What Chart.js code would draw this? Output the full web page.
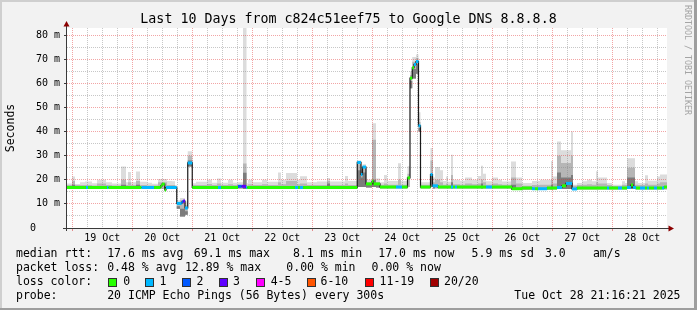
<!DOCTYPE html>
<html><head><meta charset="utf-8">
<script src="https://cdn.jsdelivr.net/npm/chart.js@4/dist/chart.umd.min.js"></script>
<style>
html,body{margin:0;padding:0;background:#f2f2f2;}
#wrap{position:relative;width:697px;height:310px;overflow:hidden;background:#f2f2f2;font-family:"DejaVu Sans Mono",monospace;}
#c{position:absolute;left:0;top:0;}
.t{position:absolute;font-size:11.5px;line-height:14px;white-space:pre;color:#000;}
.box{position:absolute;width:7px;height:7px;border:1px solid #303030;}
.bd{position:absolute;}
#credit{position:absolute;left:683px;top:5px;writing-mode:vertical-rl;font-size:8.3px;line-height:9px;color:#a4a4a4;white-space:pre;}
</style></head><body>
<div id="wrap">
<canvas id="c" width="697" height="310"></canvas>
<div id="legend"></div>
<div id="credit">RRDTOOL / TOBI OETIKER</div>
<div class="bd" style="left:0;top:0;width:697px;height:2px;background:#cfcfcf"></div>
<div class="bd" style="left:0;top:0;width:2px;height:310px;background:#cfcfcf"></div>
<div class="bd" style="left:694px;top:0;width:3px;height:310px;background:#9e9e9e"></div>
<div class="bd" style="left:0;top:308px;width:697px;height:2px;background:#9e9e9e"></div>
</div>
<script>
// ---------- data (time in hours since 18 Oct 00:00, values in ms) ----------
const titleText = 'Last 10 Days from c824c51eef75 to Google DNS 8.8.8.8';
const axisTitle = 'Seconds';
const timeStart = 21.9;
const timeEnd = 261.9;
const yMax = 83;

// median RTT (step changes) and the number of lost pings (of 20) per step
const medHours = [21.9,29.5,30.3,37.9,38.5,51.7,56.7,59.4,59.9,61.0,
  61.5,65.8,67.8,68.4,69.1,70.2,72.0,82.3,83.5,90.3,
  91.8,93.5,94.0,113.1,114.3,115.1,116.3,138.0,139.5,140.1,
  141.5,143.9,144.5,147.1,153.5,155.9,158.1,159.1,160.0,160.7,
  161.5,162.5,163.3,167.3,168.1,170.3,175.5,176.3,177.1,177.9,
  189.5,191.9,199.9,203.9,207.9,209.1,210.3,213.9,217.9,219.9,
  221.5,223.9,225.9,237.9,238.7,242.3,243.9,245.9,247.5,248.3,
  249.5,251.1,253.1,253.9,254.7,256.7,257.9,259.9,260.7];
const medMs = [16.8,16.8,16.8,16.8,16.8,16.8,16.8,17.5,18.2,15.8,
  16.8,10.2,10.8,11.2,8.3,27.0,16.8,16.8,16.8,17.3,
  17.3,16.8,16.8,16.8,16.8,16.8,16.8,27.2,22.2,25.3,
  18.3,19.4,18.3,17.0,17.0,17.0,20.8,62.2,66.5,67.9,
  69.1,42.4,17.0,22.2,17.5,17.0,17.0,17.0,17.0,17.0,
  17.0,17.0,16.3,16.6,16.3,16.3,16.3,16.6,16.8,17.5,
  18.5,16.2,16.6,16.6,16.6,16.6,16.6,16.8,17.8,16.8,
  16.6,16.6,16.6,16.6,16.6,16.6,16.6,16.6,17.0];
const medLoss = [0,1,0,1,0,1,0,0,0,0,
  1,1,2,3,1,1,0,1,0,2,
  3,1,0,1,0,1,0,1,1,1,
  0,0,0,0,1,0,0,0,0,1,
  1,1,0,1,1,0,1,0,1,0,
  1,0,0,0,1,0,1,0,1,0,
  1,1,0,1,0,1,0,1,0,1,
  0,1,0,1,0,1,0,1,0];

// smoke (spread of the 20 pings): bottom, dark band top, mid band top, max
const smokeHours = [21.9,23.9,25.1,27.1,29.1,31.9,33.9,37.5,39.9,43.5,
  45.5,46.3,47.5,49.5,51.1,53.9,55.9,58.3,61.9,63.9,
  65.1,65.8,67.1,69.1,70.2,72.0,73.5,77.9,79.9,81.9,
  83.5,86.3,88.3,90.3,92.3,93.7,94.3,96.3,99.9,101.9,
  106.3,107.5,109.5,113.9,115.1,117.9,121.9,125.9,127.1,133.1,
  134.3,138.0,139.5,140.1,141.5,143.9,145.5,147.1,148.7,149.9,
  154.3,155.5,158.1,159.1,160.0,161.5,162.5,163.3,167.3,168.3,
  169.1,171.1,172.3,173.5,174.3,175.5,176.3,179.1,181.1,183.9,
  186.3,187.5,188.3,189.5,191.9,194.3,195.9,199.5,201.5,203.9,
  207.9,211.1,215.5,216.3,217.9,219.5,223.5,224.3,225.9,227.9,
  229.9,231.9,233.5,234.3,237.9,239.9,243.9,245.1,245.9,249.1,
  250.3,253.1,254.3,257.9,259.1];
const smokeLow = [16.2,16.2,16.2,16.2,16.2,16.2,16.2,16.2,16.2,16.2,
  16.2,16.2,16.2,16.2,16.2,16.2,16.2,16.2,16.2,16.2,
  16.2,8.0,4.8,5.5,25.5,16.2,16.2,16.2,16.2,16.2,
  16.2,16.2,16.2,16.2,16.2,16.2,16.2,16.2,16.2,16.2,
  16.2,16.2,16.2,16.2,16.2,16.2,16.2,16.2,16.2,16.2,
  16.2,17.0,17.0,17.0,16.8,17.0,16.8,16.4,16.4,16.4,
  16.4,16.4,17.0,58.0,62.0,64.0,40.0,16.4,17.0,16.4,
  16.4,16.4,16.4,16.4,16.4,16.4,16.4,16.4,16.4,16.4,
  16.4,16.4,16.4,16.4,16.4,16.4,16.4,15.8,15.8,15.8,
  15.8,15.8,16.0,16.0,16.2,16.2,16.2,15.8,16.0,16.0,
  16.0,16.0,16.0,16.0,16.0,16.0,16.0,16.0,16.2,16.0,
  16.0,16.0,16.0,16.0,16.0];
const smokeDark = [16.2,18.0,16.2,16.2,16.2,16.2,16.2,16.2,16.2,18.0,
  16.2,16.2,16.2,18.0,16.2,16.2,16.2,16.2,16.2,16.2,
  16.2,9.0,8.0,7.0,28.0,16.2,16.2,16.2,16.2,16.2,
  16.2,16.2,16.2,16.2,22.9,16.2,16.2,16.2,16.2,16.2,
  16.2,16.2,16.2,16.2,16.2,16.2,16.2,18.5,16.2,16.2,
  16.2,24.0,21.0,23.0,18.3,20.0,18.0,16.4,16.4,16.4,
  16.4,16.4,17.0,61.0,66.0,68.0,41.5,16.4,22.0,17.5,
  16.4,16.4,16.4,16.4,16.4,19.0,16.4,16.4,16.4,16.4,
  16.4,18.5,16.4,16.4,16.4,16.4,16.4,18.0,15.8,15.8,
  15.8,15.8,18.0,16.0,23.0,21.0,22.0,15.8,16.0,16.0,
  16.0,16.0,16.0,16.0,16.0,16.0,16.0,16.0,21.0,16.0,
  16.0,16.0,16.0,16.0,16.0];
const smokeMid = [17.8,19.5,17.8,17.8,17.8,17.6,18.5,17.8,17.6,20.0,
  17.8,19.0,17.8,19.5,17.8,17.6,17.6,19.0,17.8,17.8,
  17.4,10.8,11.5,9.5,30.0,17.8,17.8,18.3,17.8,18.5,
  17.8,18.2,17.8,17.8,26.8,17.6,18.2,17.8,18.2,17.8,
  19.0,18.2,19.5,18.2,18.5,17.8,17.8,19.5,17.8,18.5,
  17.8,26.5,23.0,25.0,19.0,36.6,19.0,18.0,18.5,18.0,
  20.0,18.0,22.5,63.5,69.0,70.5,44.0,18.0,28.0,19.0,
  20.0,19.0,18.0,18.5,18.0,22.0,18.2,18.0,18.5,18.2,
  18.5,20.0,19.0,18.0,18.5,18.2,18.0,21.0,18.5,17.5,
  17.8,18.0,20.0,18.5,30.0,27.0,30.0,17.5,17.8,18.0,
  18.2,18.0,19.0,18.5,17.8,17.4,18.0,17.8,25.0,18.0,
  17.8,18.5,18.0,18.5,19.0];
const smokeHigh = [18.5,21.4,18.3,19.0,19.3,18.6,20.0,19.0,18.5,25.5,
  19.0,23.2,19.0,23.4,19.2,18.8,18.4,20.3,19.5,19.4,
  17.8,11.5,12.5,11.0,31.8,18.6,19.2,20.0,18.8,20.5,
  18.8,20.0,18.8,19.0,95.0,18.6,20.0,19.0,20.0,19.2,
  23.0,20.0,22.8,20.0,21.5,19.0,19.3,20.8,19.3,21.6,
  19.5,28.0,24.0,26.5,20.0,43.5,20.5,19.0,22.0,19.5,
  26.9,19.5,25.6,65.0,71.0,72.0,48.0,19.0,33.2,21.0,
  25.3,24.0,19.5,21.4,19.2,30.4,20.0,19.6,21.0,20.0,
  21.6,25.8,22.5,19.4,21.0,20.0,19.3,27.6,21.0,18.7,
  19.5,20.0,27.8,21.4,35.9,32.3,40.0,18.0,18.7,19.4,
  20.0,19.4,23.5,21.0,18.7,18.0,19.4,18.7,28.9,19.4,
  18.7,21.9,19.6,21.4,22.2];

// legend
const lossLabels = ['0','1','2','3','4-5','6-10','11-19','20/20'];
const lossColors = ['#26ff00','#00b8ff','#0059ff','#5e00ff','#ff00ff','#ff5500','#ff0000','#a00000'];
const rttStats = ['17.6 ms avg','69.1 ms max','8.1 ms min','17.0 ms now','5.9 ms sd','3.0','am/s'];
const lossStats = ['0.48 % avg','12.89 % max','0.00 % min','0.00 % now'];
const probeText = '20 ICMP Echo Pings (56 Bytes) every 300s';
const dateText = 'Tue Oct 28 21:16:21 2025';

// ---------- helpers ----------
const MONO = "'DejaVu Sans Mono', monospace";
function lossColor(n){
  if (n <= 3) return lossColors[n];
  if (n <= 5) return lossColors[4];
  if (n <= 10) return lossColors[5];
  if (n <= 19) return lossColors[6];
  return lossColors[7];
}
// each value holds from its own time until the next time
function stepData(xs, ys){
  const d = xs.map((x, i) => ({x: x, y: ys[i]}));
  d.push({x: timeEnd, y: ys[ys.length - 1]});
  return d;
}
const lossSegs = [];
medHours.forEach((t, i) => {
  const t2 = i + 1 < medHours.length ? medHours[i + 1] : timeEnd;
  lossSegs.push({x: t, y: medMs[i]}, {x: t2, y: medMs[i]}, {x: t2, y: null});
});

const GRID_MINOR = 'rgba(130,130,130,0.45)';
const GRID_MAJOR = 'rgba(225,40,40,0.42)';

const bgPlugin = {
  id: 'canvasBg',
  beforeDraw(chart){
    const {ctx, chartArea: a} = chart;
    ctx.save(); ctx.fillStyle = '#ffffff';
    ctx.fillRect(a.left, a.top, a.right - a.left, a.bottom - a.top);
    ctx.restore();
  }
};
const gridPlugin = {
  id: 'gridOverSmoke',
  afterDatasetDraw(chart, args){
    if (chart.data.datasets[args.index].label !== 'smokeDark') return;
    const {ctx, chartArea: a} = chart;
    const xs = chart.scales.x, ys = chart.scales.y;
    ctx.save();
    ctx.lineWidth = 1; ctx.setLineDash([1, 1]);
    xs.ticks.forEach(t => {
      const px = Math.floor(xs.getPixelForValue(t.value)) + 0.5;
      ctx.strokeStyle = (t.value % 24 === 0) ? GRID_MAJOR : GRID_MINOR;
      ctx.beginPath(); ctx.moveTo(px, a.top); ctx.lineTo(px, a.bottom); ctx.stroke();
    });
    ys.ticks.forEach(t => {
      if (t.value === 0) return;
      const py = Math.floor(ys.getPixelForValue(t.value)) + 0.5;
      ctx.strokeStyle = (t.value % 10 === 0) ? GRID_MAJOR : GRID_MINOR;
      ctx.beginPath(); ctx.moveTo(a.left, py); ctx.lineTo(a.right, py); ctx.stroke();
    });
    ctx.restore();
  }
};
const axisPlugin = {
  id: 'rrdAxes',
  afterDraw(chart){
    const {ctx, chartArea: a} = chart;
    ctx.save();
    ctx.strokeStyle = '#3a3a3a'; ctx.lineWidth = 1;
    ctx.beginPath();
    ctx.moveTo(a.left - 0.5, a.bottom + 3); ctx.lineTo(a.left - 0.5, a.top - 2);
    ctx.moveTo(a.left - 4, a.bottom + 0.5); ctx.lineTo(a.right + 2, a.bottom + 0.5);
    ctx.stroke();
    ctx.fillStyle = '#8b0000';
    ctx.beginPath();
    ctx.moveTo(a.left - 0.5, a.top - 7); ctx.lineTo(a.left - 3.5, a.top - 1.5); ctx.lineTo(a.left + 2.5, a.top - 1.5);
    ctx.closePath(); ctx.fill();
    ctx.beginPath();
    ctx.moveTo(a.right + 7, a.bottom + 0.5); ctx.lineTo(a.right + 1.5, a.bottom - 2.5); ctx.lineTo(a.right + 1.5, a.bottom + 3.5);
    ctx.closePath(); ctx.fill();
    ctx.restore();
  }
};

const noLine = 'rgba(0,0,0,0)';
new Chart(document.getElementById('c'), {
  type: 'line',
  data: {
    datasets: [
      {label: 'smokeLow', data: stepData(smokeHours, smokeLow), stepped: 'before', borderColor: noLine, borderWidth: 1, fill: false, order: 20},
      {label: 'smokeHigh', data: stepData(smokeHours, smokeHigh), stepped: 'before', borderColor: noLine, borderWidth: 1, backgroundColor: '#dcdcdc', fill: 0, order: 12},
      {label: 'smokeMid', data: stepData(smokeHours, smokeMid), stepped: 'before', borderColor: noLine, borderWidth: 1, backgroundColor: '#b6b6b6', fill: 0, order: 11},
      {label: 'smokeDark', data: stepData(smokeHours, smokeDark), stepped: 'before', borderColor: noLine, borderWidth: 1, backgroundColor: '#7c7c7c', fill: 0, order: 10},
      {label: 'median', data: stepData(medHours, medMs), stepped: 'before', borderColor: '#1a1a1a', borderWidth: 1.2, fill: false, order: 2},
      {label: 'loss', data: lossSegs, borderWidth: 3, borderCapStyle: 'butt', spanGaps: false, fill: false, order: 1,
        borderColor: lossColors[0],
        segment: {borderColor: c => lossColor(medLoss[Math.floor(c.p0DataIndex / 3)])}}
    ]
  },
  options: {
    responsive: false, animation: false, devicePixelRatio: 1, events: [],
    parsing: true,
    elements: {point: {radius: 0, hoverRadius: 0}, line: {tension: 0}},
    layout: {padding: 0},
    plugins: {
      legend: {display: false}, tooltip: {enabled: false},
      title: {display: true, text: titleText, color: '#000',
        font: {family: MONO, size: 13.3, weight: 'normal', lineHeight: '16px'},
        padding: {top: 12, bottom: 0}}
    },
    scales: {
      x: {
        type: 'linear', min: timeStart, max: timeEnd,
        afterBuildTicks: s => { const t = []; for (let h = 24; h <= timeEnd; h += 6) t.push({value: h}); s.ticks = t; },
        afterFit: s => { s.height = 82; },
        ticks: {autoSkip: false, maxRotation: 0, minRotation: 0, padding: 1, color: '#000',
          font: {family: MONO, size: 10},
          callback: v => (v % 24 === 12) ? (18 + Math.floor(v / 24)) + ' Oct' : ''},
        grid: {display: true, drawOnChartArea: false, tickLength: 3,
          tickColor: c => (c.tick && c.tick.value % 24 === 0) ? '#e58a8a' : noLine},
        border: {display: false}
      },
      y: {
        type: 'linear', min: 0, max: yMax,
        afterBuildTicks: s => { const t = []; for (let v = 0; v <= 80; v += 5) t.push({value: v}); s.ticks = t; },
        afterFit: s => { s.width = 67; },
        ticks: {autoSkip: false, padding: 4, color: '#000', font: {family: MONO, size: 10},
          callback: v => v === 0 ? '0    ' : (v % 10 === 0 ? v + ' m' : '')},
        grid: {display: true, drawOnChartArea: false, tickLength: 3,
          tickColor: c => (c.tick && c.tick.value % 10 === 0 && c.tick.value !== 0) ? '#3a3a3a' : noLine},
        border: {display: false},
        title: {display: true, text: axisTitle, color: '#000',
          font: {family: MONO, size: 11.5, weight: 'normal'}, padding: {top: 4, bottom: 0}}
      },
      yRight: {
        type: 'linear', position: 'right', min: 0, max: yMax, display: true,
        afterFit: s => { s.width = 30; },
        ticks: {display: false}, grid: {display: false, drawTicks: false}, border: {display: false}
      }
    }
  },
  plugins: [bgPlugin, gridPlugin, axisPlugin]
});

// ---------- text legend below the plot ----------
(function(){
  const L = document.getElementById('legend');
  function txt(left, top, s, right){
    const e = document.createElement('div');
    e.className = 't'; e.textContent = s; e.style.top = top + 'px';
    if (right !== undefined) e.style.right = right + 'px'; else e.style.left = left + 'px';
    L.appendChild(e);
  }
  const rows = [246, 260, 274, 288];
  txt(16, rows[0], 'median rtt:');
  [107.2, 193.8, 292.9, 378.3, 471.6, 544.9, 592.9].forEach((x, i) => txt(x, rows[0], rttStats[i]));
  txt(16, rows[1], 'packet loss:');
  [107.2, 184.9, 286.3, 371.6].forEach((x, i) => txt(x, rows[1], lossStats[i]));
  txt(16, rows[2], 'loss color:');
  const boxX = [108, 145.3, 182.2, 219.1, 256.4, 306.7, 365.3, 430.2];
  const labX = [123.2, 159.6, 196.5, 232.9, 270.7, 320.5, 379.6, 444.0];
  lossLabels.forEach((lab, i) => {
    const b = document.createElement('div');
    b.className = 'box'; b.style.left = Math.round(boxX[i]) + 'px'; b.style.top = '278px';
    b.style.background = lossColors[i];
    L.appendChild(b);
    txt(labX[i], rows[2], lab);
  });
  txt(16, rows[3], 'probe:');
  txt(107.2, rows[3], probeText);
  txt(0, rows[3], dateText, 16.5);
})();
</script>
</body></html>
